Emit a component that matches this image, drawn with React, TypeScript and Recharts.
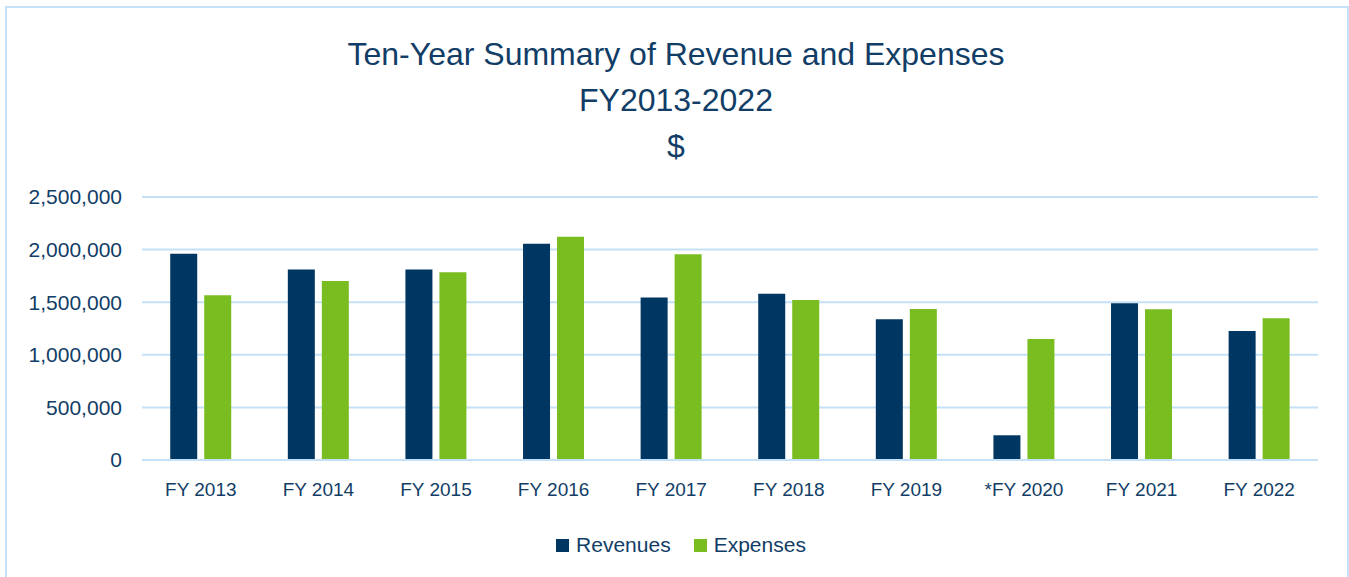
import { Bar, BarChart, CartesianGrid, Legend, XAxis, YAxis } from "recharts";

// ten-year revenue vs expenses
const years = [
  "FY 2013",
  "FY 2014",
  "FY 2015",
  "FY 2016",
  "FY 2017",
  "FY 2018",
  "FY 2019",
  "*FY 2020",
  "FY 2021",
  "FY 2022",
];
const revenues = [1960000, 1810000, 1810000, 2055000, 1545000, 1580000, 1337000, 235000, 1490000, 1226000];
const expenses = [1566000, 1702000, 1784000, 2123000, 1955000, 1521000, 1435000, 1150000, 1432000, 1347000];
const yTicks = [0, 500000, 1000000, 1500000, 2000000, 2500000];
const seriesNames = ["Revenues", "Expenses"];
const titleLines = ["Ten-Year Summary of Revenue and Expenses", "FY2013-2022", "$"];

const NAVY = "#003662";
const GREEN = "#7abd21";
const TEXT = "#113d66";
const GRID = "#c4e1f8";
const FONT = "'Liberation Sans', Arial, sans-serif";

const data = years.map((year, i) => ({
  year,
  Revenues: revenues[i],
  Expenses: expenses[i],
}));

function LegendContent(props: any) {
  const items = [...(props.payload || [])].sort(
    (a: any, b: any) => seriesNames.indexOf(a.value) - seriesNames.indexOf(b.value)
  );
  return (
    <div
      style={{
        display: "flex",
        justifyContent: "center",
        alignItems: "center",
        gap: 23,
        paddingLeft: 44,
        paddingTop: 2,
      }}
    >
      {items.map((it: any) => (
        <div key={it.value} style={{ display: "flex", alignItems: "center" }}>
          <span style={{ width: 13, height: 13, background: it.color, marginRight: 7, display: "inline-block" }} />
          <span style={{ color: TEXT, fontSize: 21, fontFamily: FONT }}>{it.value}</span>
        </div>
      ))}
    </div>
  );
}

export default function App() {
  return (
    <div
      style={{
        position: "absolute",
        left: 0,
        top: 0,
        width: 1349,
        height: 577,
        overflow: "hidden",
        background: "#fff",
        fontFamily: FONT,
      }}
    >
      <div
        style={{
          position: "absolute",
          left: 5,
          top: 6,
          width: 1340,
          height: 640,
          border: `2px solid ${GRID}`,
        }}
      />
      <div
        style={{
          position: "absolute",
          left: 0,
          top: 31,
          width: 1352,
          textAlign: "center",
          color: TEXT,
          fontSize: 32,
          lineHeight: "46px",
        }}
      >
        {titleLines.map((t) => (
          <div key={t}>{t}</div>
        ))}
      </div>
      <div style={{ position: "absolute", left: 0, top: 0 }}>
        <BarChart
          width={1349}
          height={577}
          data={data}
          margin={{ top: 197, right: 31, bottom: 14, left: 0 }}
          barCategoryGap="24%"
          barGap={7}
        >
          <CartesianGrid vertical={false} stroke={GRID} strokeWidth={2} />
          <XAxis
            dataKey="year"
            height={71}
            axisLine={{ stroke: GRID, strokeWidth: 2 }}
            tickLine={false}
            tickSize={0}
            tickMargin={23}
            tick={{ fill: TEXT, fontSize: 19, fontFamily: FONT }}
            interval={0}
          />
          <YAxis
            width={142}
            domain={[0, 2500000]}
            ticks={yTicks}
            axisLine={false}
            tickLine={false}
            tickSize={0}
            tickMargin={20}
            tickFormatter={(v: number) => v.toLocaleString("en-US")}
            tick={{ fill: TEXT, fontSize: 21, fontFamily: FONT }}
          />
          <Legend verticalAlign="bottom" align="center" height={32} content={<LegendContent />} />
          <Bar dataKey="Revenues" fill={NAVY} isAnimationActive={false} />
          <Bar dataKey="Expenses" fill={GREEN} isAnimationActive={false} />
        </BarChart>
      </div>
    </div>
  );
}
